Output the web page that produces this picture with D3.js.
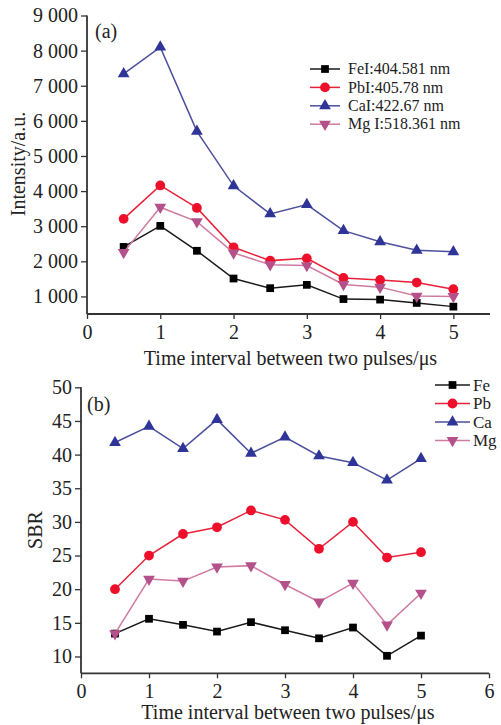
<!DOCTYPE html>
<html>
<head>
<meta charset="utf-8">
<script src="https://cdn.jsdelivr.net/npm/d3@7"></script>
<style>
  html, body { margin: 0; padding: 0; background: #fff; }
  svg { display: block; font-family: "Liberation Serif", "Times New Roman", serif; }
</style>
</head>
<body>
<svg id="chart" width="501" height="725"></svg>
<script>
// time interval between pulses (us)
const times = [0.5, 1, 1.5, 2, 2.5, 3, 3.5, 4, 4.5, 5];

// panel (a) intensity, a.u.
const feIntensity = [2410, 3010, 2300, 1510, 1235, 1330, 925, 910, 815, 710];
const pbIntensity = [3210, 4160, 3520, 2400, 2020, 2085, 1525, 1470, 1395, 1205];
const caIntensity = [7340, 8100, 5700, 4150, 3350, 3615, 2875, 2555, 2315, 2270];
const mgIntensity = [2255, 3540, 3130, 2240, 1905, 1880, 1340, 1265, 1010, 1000];

// panel (b) SBR
const feSBR = [13.4, 15.6, 14.7, 13.7, 15.1, 13.9, 12.7, 14.3, 10.1, 13.1];
const pbSBR = [20.0, 25.0, 28.2, 29.2, 31.7, 30.3, 26.0, 30.0, 24.7, 25.5];
const caSBR = [41.8, 44.2, 40.9, 45.2, 40.2, 42.6, 39.8, 38.8, 36.2, 39.4];
const mgSBR = [13.4, 21.5, 21.2, 23.3, 23.5, 20.7, 18.1, 20.9, 14.7, 19.4];

const labelsA = ["FeI:404.581 nm", "PbI:405.78 nm", "CaI:422.67 nm", "Mg I:518.361 nm"];
const labelsB = ["Fe", "Pb", "Ca", "Mg"];

const yTicksA = [1000, 2000, 3000, 4000, 5000, 6000, 7000, 8000, 9000];
const yTicksB = [10, 15, 20, 25, 30, 35, 40, 45, 50];
const xTicksA = [0, 1, 2, 3, 4, 5];
const xTicksB = [0, 1, 2, 3, 4, 5, 6];

// line / marker styles per element
const styles = [
  { line: "#1a1a1a", fill: "#000000", symbol: d3.symbolSquare, size: 60, rot: 0 },
  { line: "#e8203a", fill: "#ee0f2a", symbol: d3.symbolCircle, size: 75, rot: 0 },
  { line: "#4c4f9c", fill: "#2e3596", symbol: d3.symbolTriangle, size: 60, rot: 0 },
  { line: "#d07aa0", fill: "#b4508a", symbol: d3.symbolTriangle, size: 60, rot: 180 }
];

const svg = d3.select("#chart");
const fmtThousands = v => d3.format(",")(v).replace(",", " ");

function drawPanel(opt) {
  const g = svg.append("g");
  const x = d3.scaleLinear().domain(opt.xDomain).range(opt.xRange);
  const y = d3.scaleLinear().domain(opt.yDomain).range(opt.yRange);

  // axes
  const xAxis = g.append("g")
    .attr("transform", `translate(0,${opt.yRange[0]})`)
    .call(d3.axisBottom(x).tickValues(opt.xTicks).tickSize(5).tickPadding(6).tickFormat(d3.format("d")));
  const yAxis = g.append("g")
    .attr("transform", `translate(${opt.xRange[0]},0)`)
    .call(d3.axisLeft(y).tickValues(opt.yTicks).tickSize(6).tickPadding(3).tickFormat(opt.yFormat));
  [xAxis, yAxis].forEach(a => {
    a.select(".domain").attr("stroke", "#333").attr("stroke-width", 1.8);
    a.selectAll(".tick line").attr("stroke", "#333").attr("stroke-width", 1.3);
    a.selectAll(".tick text").attr("fill", "#222").style("font-size", "20px")
      .style("font-family", "Liberation Serif, serif");
  });
  // axis lines only, no end caps
  xAxis.select(".domain").attr("d", `M${opt.xRange[0]},0H${opt.xRange[1]}`);
  yAxis.select(".domain").attr("d", `M0,${opt.yRange[0]}V${opt.yRange[1]}`);

  // series
  opt.series.forEach((vals, i) => {
    const st = styles[i];
    const pts = times.map((t, k) => [t, vals[k]]);
    g.append("path")
      .datum(pts)
      .attr("fill", "none")
      .attr("stroke", st.line)
      .attr("stroke-width", 1.5)
      .attr("d", d3.line().x(d => x(d[0])).y(d => y(d[1])));
    g.selectAll(null)
      .data(pts)
      .enter()
      .append("path")
      .attr("d", d3.symbol().type(st.symbol).size(st.size))
      .attr("transform", d => `translate(${x(d[0])},${y(d[1])}) rotate(${st.rot})`)
      .attr("fill", st.fill);
  });

  // legend
  opt.labels.forEach((lab, i) => {
    const st = styles[i];
    const ly = opt.legend.y + i * opt.legend.step;
    const lg = g.append("g");
    lg.append("line")
      .attr("x1", opt.legend.x1).attr("x2", opt.legend.x2)
      .attr("y1", ly).attr("y2", ly)
      .attr("stroke", st.line).attr("stroke-width", 1.5);
    lg.append("path")
      .attr("d", d3.symbol().type(st.symbol).size(st.size))
      .attr("transform", `translate(${(opt.legend.x1 + opt.legend.x2) / 2},${ly}) rotate(${st.rot})`)
      .attr("fill", st.fill);
    lg.append("text")
      .attr("x", opt.legend.tx).attr("y", ly + opt.legend.fs * 0.33)
      .attr("fill", "#222")
      .style("font-size", opt.legend.fs + "px")
      .text(lab);
  });

  // panel tag
  g.append("text").attr("x", opt.tag.x).attr("y", opt.tag.y)
    .style("font-size", "20px").attr("fill", "#222").text(opt.tag.text);

  // axis titles
  g.append("text")
    .attr("x", (opt.xRange[0] + opt.xRange[1]) / 2 + opt.xTitle.dx)
    .attr("y", opt.xTitle.y)
    .attr("text-anchor", "middle")
    .style("font-size", "20px").attr("fill", "#222")
    .text("Time interval between two pulses/\u03bcs");
  g.append("text")
    .attr("transform", `translate(${opt.yTitle.x},${opt.yTitle.y}) rotate(-90)`)
    .attr("text-anchor", "middle")
    .style("font-size", "20px").attr("fill", "#222")
    .text(opt.yTitle.text);
}

drawPanel({
  xDomain: [0, 5.5], xRange: [87, 490],
  yDomain: [500, 9000], yRange: [314, 15.5],
  xTicks: xTicksA, yTicks: yTicksA, yFormat: fmtThousands,
  series: [feIntensity, pbIntensity, caIntensity, mgIntensity],
  labels: labelsA,
  legend: { x1: 310, x2: 340, tx: 348, y: 69, step: 18.4, fs: 16 },
  tag: { x: 95, y: 38, text: "(a)" },
  xTitle: { y: 365, dx: 2 },
  yTitle: { x: 25, y: 164, text: "Intensity/a.u." }
});

drawPanel({
  xDomain: [0, 6], xRange: [81, 489],
  yDomain: [7.5, 50], yRange: [673.3, 387.3],
  xTicks: xTicksB, yTicks: yTicksB, yFormat: d3.format("d"),
  series: [feSBR, pbSBR, caSBR, mgSBR],
  labels: labelsB,
  legend: { x1: 435, x2: 470, tx: 473, y: 385, step: 18.5, fs: 17 },
  tag: { x: 87, y: 411, text: "(b)" },
  xTitle: { y: 719, dx: 3 },
  yTitle: { x: 42, y: 530, text: "SBR" }
});
</script>
</body>
</html>
